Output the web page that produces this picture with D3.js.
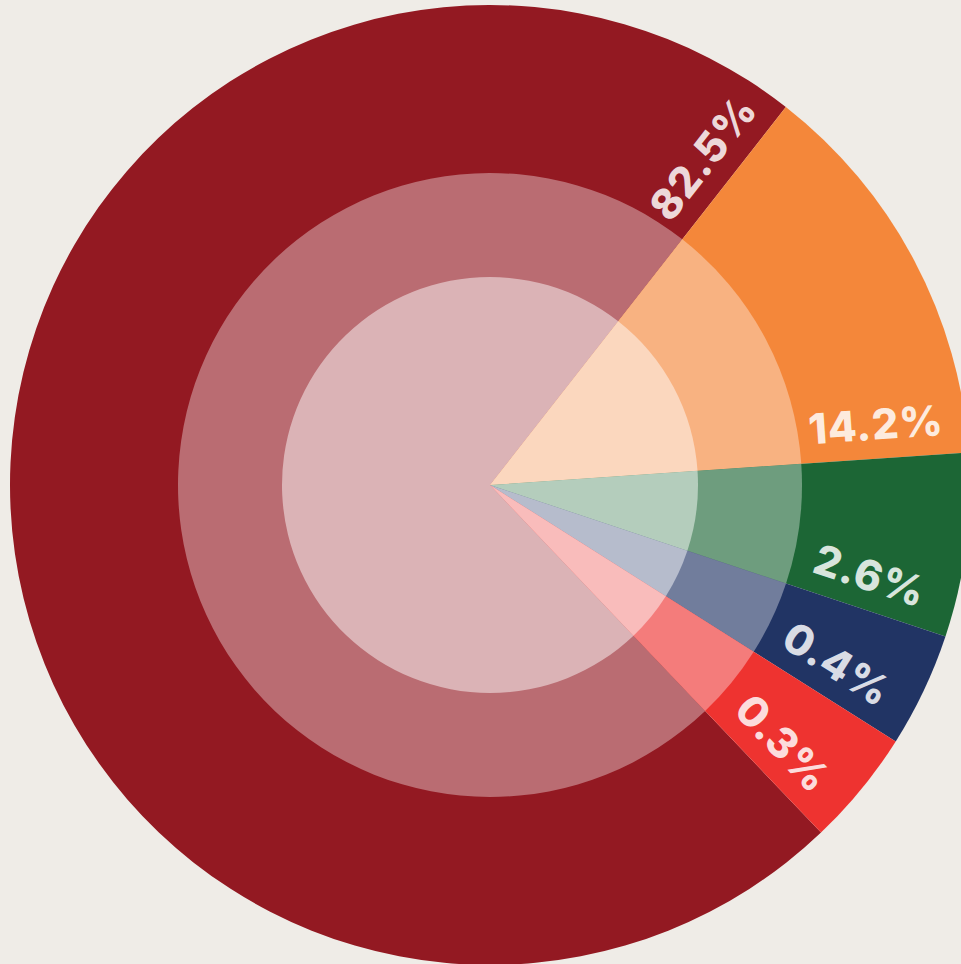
<!DOCTYPE html>
<html>
<head>
<meta charset="utf-8">
<script src="https://cdn.jsdelivr.net/npm/d3@7"></script>
<style>
  html, body { margin: 0; padding: 0; background: #efece7; }
  svg { display: block; }
</style>
</head>
<body>
<div id="chart"></div>
<script>
// slice data, in drawing order (clockwise)
var labels = ["82.5%", "14.2%", "2.6%", "0.4%", "0.3%"];
var shares = [82.5, 14.2, 2.6, 0.4, 0.3];
// angle each slice takes on the picture (degrees) - small ones are blown up
var sweepDeg = [261.65, 48.05, 22.3, 13.9, 14.1];
var colors = ["#931922", "#f4873a", "#1c6635", "#213464", "#ee3330"];

var width = 961, height = 964;
var cx = 490, cy = 485;
var startDeg = 136.4;
// rings from outside in: radius + how much white is mixed in
var rings = [
  {r: 480, tint: 0},
  {r: 312, tint: 0.36},
  {r: 208, tint: 0.67}
];
var labelTint = 0.83;
var labelR = 389;     // middle of the text along the radius
var labelOff = 19;    // baseline distance from the slice end edge

var rad = Math.PI / 180;

var svg = d3.select("#chart").append("svg")
  .attr("width", width)
  .attr("height", height);

svg.append("rect").attr("width", width).attr("height", height).attr("fill", "#efece7");

var g = svg.append("g").attr("transform", "translate(" + cx + "," + cy + ")");

var pie = d3.pie()
  .sort(null)
  .value(function(d, i) { return sweepDeg[i]; })
  .startAngle(startDeg * rad)
  .endAngle((startDeg + 360) * rad);

var arcs = pie(shares);

function tint(c, t) {
  return d3.interpolateRgb(c, "#ffffff")(t);
}

rings.forEach(function(ring) {
  var arc = d3.arc().innerRadius(0).outerRadius(ring.r);
  g.append("g").selectAll("path")
    .data(arcs).enter()
    .append("path")
    .attr("d", arc)
    .attr("fill", function(d, i) { return tint(colors[i], ring.tint); });
});

// labels lie along the closing edge of each slice
g.append("g").selectAll("text")
  .data(arcs).enter()
  .append("text")
  .attr("transform", function(d) {
    return "rotate(" + (d.endAngle / rad - 90) + ")";
  })
  .attr("x", labelR)
  .attr("y", -labelOff)
  .attr("text-anchor", "middle")
  .attr("font-family", "Inter, 'Open Sans', sans-serif")
  .attr("font-weight", 800)
  .attr("font-size", 42)
  .attr("letter-spacing", 0.8)
  .attr("fill", function(d, i) { return tint(colors[i], labelTint); })
  .text(function(d, i) { return labels[i]; });
</script>
</body>
</html>
